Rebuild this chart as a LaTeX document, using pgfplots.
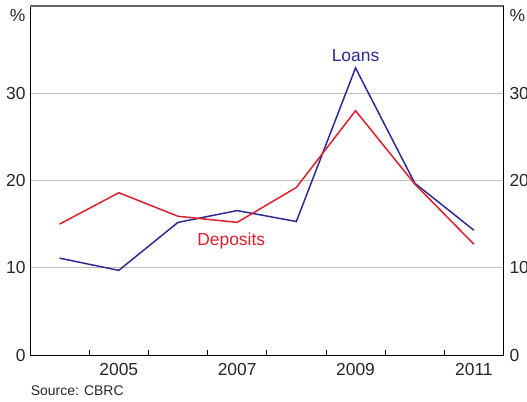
\documentclass[border=0pt]{standalone}
\usepackage{pgfplots}
\pgfplotsset{compat=1.18}
\usepackage{fontspec}
\setmainfont{Liberation Sans}
\definecolor{loans}{RGB}{43,43,145}
\definecolor{deposits}{RGB}{222,30,45}
\definecolor{gridgray}{RGB}{190,190,190}

\pgfplotsset{
  base/.style={
    scale only axis,
    width=473.5bp, height=349bp,
    xmin=2003.5, xmax=2011.5,
    ymin=0, ymax=40,
    /pgf/number format/1000 sep={},
    /pgf/number format/assume math mode=true,
    tick label style={font=\fontsize{17.5}{20}\selectfont, text=black!85},
    ytick={0,10,20,30},
    major tick length=5bp,
    ytick style={draw=none},
  }
}

\begin{document}
\begin{tikzpicture}
\begin{axis}[base,
    axis x line*=bottom, axis y line*=left,
    axis line style={black, line width=0.9pt},
    xtick={2004.5,2005.5,...,2010.5},
    xticklabels={},
    xtick style={black, line width=0.8pt},
    xtick align=inside,
    extra x ticks={2005,2007,2009,2011},
    extra x tick style={xtick style={draw=none}, grid=none},
    extra x tick labels={2005,2007,2009,2011},
    xticklabel style={yshift=-5bp},
    ymajorgrids, grid style={gridgray, line width=0.8pt},
    extra y ticks={38.9},
    extra y tick labels={\%},
    extra y tick style={grid=none},
    yticklabel style={xshift=-1bp},
    clip=false,
  ]
  \addplot[loans, line width=1.5pt] coordinates {
    (2004,11.1) (2005,9.7) (2006,15.2) (2007,16.55) (2008,15.3)
    (2009,32.9) (2010,19.7) (2011,14.3)};
  \addplot[deposits, line width=1.5pt] coordinates {
    (2004,15.0) (2005,18.6) (2006,15.9) (2007,15.2) (2008,19.2)
    (2009,28.0) (2010,19.6) (2011,12.7)};
  \node[loans, font=\fontsize{17.5}{20}\selectfont] at (axis cs:2009,34.3) {Loans};
  \node[deposits, font=\fontsize{17.5}{20}\selectfont] at (axis cs:2006.9,13.1) {Deposits};
  \draw[black!60, line width=1.2pt] (rel axis cs:0,1) -- (rel axis cs:1,1);
  \node[anchor=north west, font=\fontsize{14}{16}\selectfont, text=black!85, inner sep=0pt]
    at ([xshift=0.7bp, yshift=-31bp]rel axis cs:0,0) {Source: CBRC};
\end{axis}
\begin{axis}[base,
    axis x line=none, axis y line*=right,
    axis line style={black, line width=0.9pt},
    xtick=\empty,
    extra y ticks={38.9},
    extra y tick labels={\%},
    yticklabel style={xshift=2.5bp},
  ]
  \addplot[draw=none] coordinates {(2004,0)};
\end{axis}
\pgfresetboundingbox
\path (-30bp,-47bp) rectangle (497bp,355bp);
\end{tikzpicture}
\end{document}
